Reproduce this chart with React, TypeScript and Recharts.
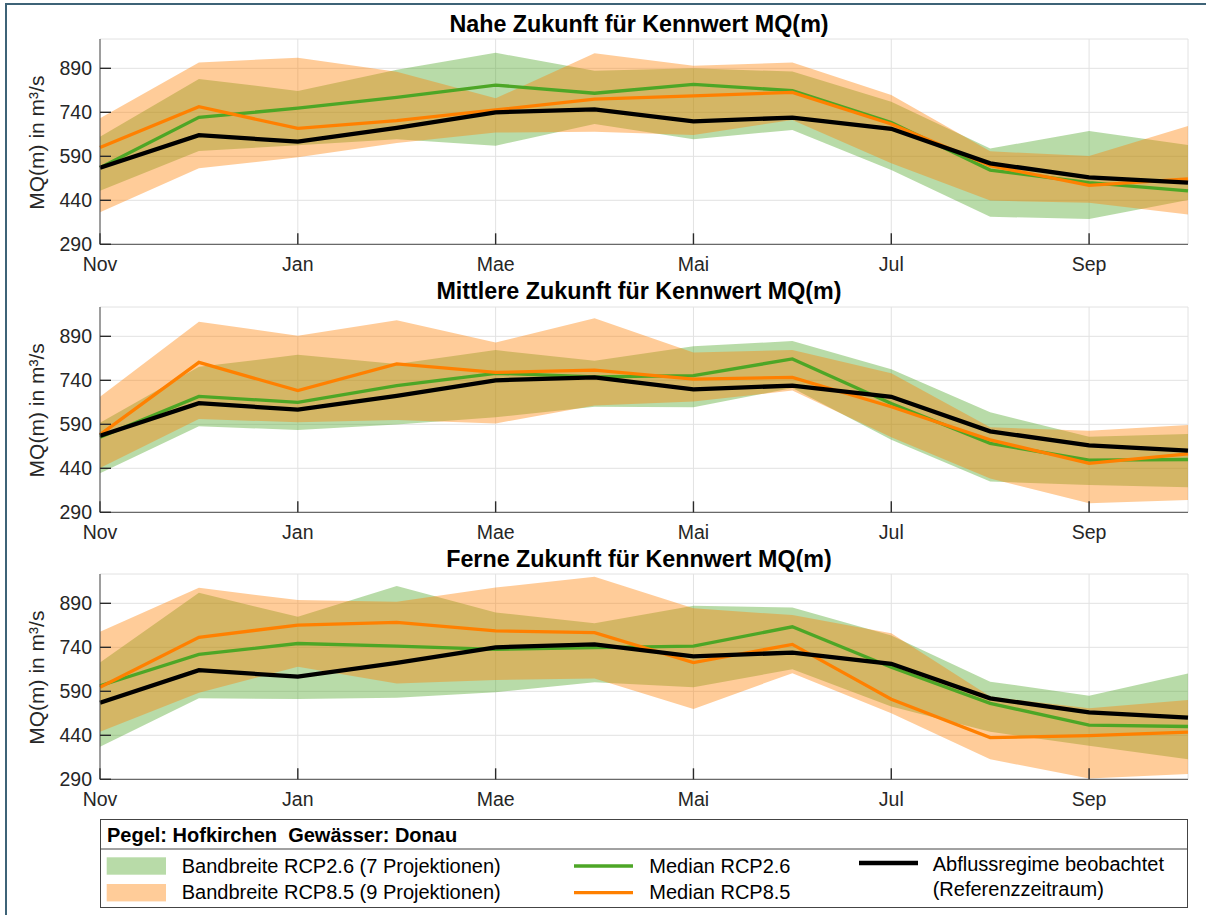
import React from 'react';
import { ComposedChart, Area, Line, XAxis, YAxis, CartesianGrid } from 'recharts';

const months = ['Nov', 'Dez', 'Jan', 'Feb', 'Mae', 'Apr', 'Mai', 'Jun', 'Jul', 'Aug', 'Sep', 'Okt'];
const xTicks = [0, 2, 4, 6, 8, 10];
const yTicks = [290, 440, 590, 740, 890];
const yDomain = [290, 990];

const observed = [551, 662, 640, 687, 740, 750, 709, 722, 684, 566, 518, 500];

// Nahe Zukunft
const nearGreenLow = [473, 608, 628, 648, 626, 700, 648, 680, 543, 384, 376, 441];
const nearGreenHigh = [657, 854, 813, 885, 943, 882, 890, 879, 776, 617, 676, 629];
const nearOrangeLow = [399, 549, 587, 635, 671, 674, 663, 714, 566, 439, 432, 392];
const nearOrangeHigh = [720, 910, 926, 878, 788, 941, 899, 910, 799, 607, 591, 693];
const nearGreenMedian = [551, 723, 754, 791, 833, 805, 835, 814, 705, 543, 500, 472];
const nearOrangeMedian = [620, 759, 685, 712, 748, 785, 796, 808, 700, 558, 491, 513];

// Mittlere Zukunft
const midGreenLow = [423, 583, 571, 589, 614, 650, 648, 714, 537, 395, 383, 375];
const midGreenHigh = [595, 786, 827, 796, 843, 807, 856, 874, 778, 631, 548, 557];
const midOrangeLow = [441, 608, 597, 605, 593, 654, 668, 705, 546, 405, 321, 332];
const midOrangeHigh = [684, 940, 892, 945, 869, 952, 835, 843, 764, 580, 568, 588];
const midGreenMedian = [546, 685, 665, 722, 764, 752, 756, 813, 661, 525, 468, 470];
const midOrangeMedian = [555, 801, 705, 796, 767, 775, 744, 750, 650, 537, 457, 489];

// Ferne Zukunft
const farGreenLow = [401, 566, 564, 568, 587, 621, 604, 665, 538, 452, 404, 358];
const farGreenHigh = [688, 926, 844, 949, 859, 822, 882, 876, 780, 623, 575, 651];
const farOrangeLow = [452, 585, 674, 617, 629, 634, 530, 652, 515, 358, 293, 308];
const farOrangeHigh = [793, 943, 901, 895, 944, 981, 873, 850, 788, 572, 532, 560];
const farGreenMedian = [609, 716, 753, 744, 733, 739, 744, 810, 672, 549, 475, 470];
const farOrangeMedian = [604, 774, 816, 825, 796, 790, 688, 750, 563, 432, 439, 451];

const GREEN = 'rgb(77,166,38)';
const ORANGE = 'rgb(255,128,0)';
const FONT = '"Liberation Sans", Arial, Helvetica, sans-serif';
const AXIS = '#4a4a4a';
const TICK = '#262626';

function build(gl: number[], gh: number[], ol: number[], oh: number[], gm: number[], om: number[]) {
  return months.map((m, i) => ({
    i,
    month: m,
    gBand: [gl[i], gh[i]],
    oBand: [ol[i], oh[i]],
    gMed: gm[i],
    oMed: om[i],
    obs: observed[i],
  }));
}

const panels = [
  {
    title: 'Nahe Zukunft für Kennwert MQ(m)',
    plotTop: 39,
    data: build(nearGreenLow, nearGreenHigh, nearOrangeLow, nearOrangeHigh, nearGreenMedian, nearOrangeMedian),
  },
  {
    title: 'Mittlere Zukunft für Kennwert MQ(m)',
    plotTop: 306.7,
    data: build(midGreenLow, midGreenHigh, midOrangeLow, midOrangeHigh, midGreenMedian, midOrangeMedian),
  },
  {
    title: 'Ferne Zukunft für Kennwert MQ(m)',
    plotTop: 574,
    data: build(farGreenLow, farGreenHigh, farOrangeLow, farOrangeHigh, farGreenMedian, farOrangeMedian),
  },
];

const PLOT_H = 205.3;
const CHART_H = 300;
const MT = 40;

const tickLineStyle = { stroke: '#2a2a2a', strokeWidth: 1.4 };
const axisLineStyle = { stroke: AXIS, strokeWidth: 1 };

function Panel({ data, plotTop }: { data: any[]; plotTop: number }) {
  return (
    <div style={{ position: 'absolute', left: 0, top: plotTop - MT, width: 1206, height: CHART_H }}>
      <ComposedChart
        width={1206}
        height={CHART_H}
        data={data}
        margin={{ top: MT, right: 18, bottom: CHART_H - MT - PLOT_H - 23, left: 0 }}
      >
        <CartesianGrid stroke="#e2e2e2" strokeWidth={1} />
        <Area
          type="linear"
          dataKey="gBand"
          stroke="none"
          fill={GREEN}
          fillOpacity={0.4}
          dot={false}
          activeDot={false}
          isAnimationActive={false}
        />
        <Area
          type="linear"
          dataKey="oBand"
          stroke="none"
          fill={ORANGE}
          fillOpacity={0.4}
          dot={false}
          activeDot={false}
          isAnimationActive={false}
        />
        <Line type="linear" dataKey="gMed" stroke={GREEN} strokeWidth={3.3} dot={false} activeDot={false} isAnimationActive={false} />
        <Line type="linear" dataKey="oMed" stroke={ORANGE} strokeWidth={3.3} dot={false} activeDot={false} isAnimationActive={false} />
        <Line type="linear" dataKey="obs" stroke="#000000" strokeWidth={4.3} dot={false} activeDot={false} isAnimationActive={false} />
        <XAxis
          dataKey="i"
          type="number"
          domain={[0, 11]}
          ticks={xTicks}
          interval={0}
          height={23}
          tickFormatter={(v: number) => months[v]}
          tickSize={-11}
          tickMargin={23.5}
          tick={{ fontSize: 19.5, fill: TICK, fontFamily: FONT }}
          axisLine={axisLineStyle}
          tickLine={tickLineStyle}
        />
        <XAxis
          xAxisId="top"
          orientation="top"
          dataKey="i"
          type="number"
          domain={[0, 11]}
          ticks={xTicks}
          interval={0}
          height={0}
          tickFormatter={() => ''}
          tickSize={-11}
          axisLine={axisLineStyle}
          tickLine={tickLineStyle}
        />
        <YAxis
          domain={yDomain}
          ticks={yTicks}
          interval={0}
          width={100}
          tickSize={-11}
          tickMargin={19}
          tick={{ fontSize: 19.5, fill: TICK, fontFamily: FONT }}
          axisLine={axisLineStyle}
          tickLine={tickLineStyle}
        />
        <YAxis
          yAxisId="r"
          orientation="right"
          domain={yDomain}
          ticks={yTicks}
          interval={0}
          width={0}
          tickFormatter={() => ''}
          tickSize={-11}
          axisLine={axisLineStyle}
          tickLine={tickLineStyle}
        />
      </ComposedChart>
    </div>
  );
}

export default function App() {
  return (
    <div style={{ position: 'absolute', left: 0, top: 0, width: 1206, height: 915, background: '#ffffff', overflow: 'hidden' }}>
      {panels.map((p) => (
        <Panel key={p.title} data={p.data} plotTop={p.plotTop} />
      ))}
      <svg
        width={1206}
        height={915}
        style={{ position: 'absolute', left: 0, top: 0, pointerEvents: 'none' }}
        fontFamily={FONT}
      >
        <rect x={5} y={3} width={1201} height={2} fill="#3e6377" />
        <rect x={5} y={3} width={2} height={912} fill="#3e6377" />
        {panels.map((p) => (
          <g key={p.title}>
            <text x={639} y={p.plotTop - 7.3} textAnchor="middle" fontSize={23.3} fontWeight="bold" fill="#000">
              {p.title}
            </text>
            <text
              x={44}
              y={p.plotTop + PLOT_H / 2 + 1}
              textAnchor="middle"
              fontSize={21}
              fill={TICK}
              transform={`rotate(-90, 44, ${p.plotTop + PLOT_H / 2 + 1})`}
            >
              MQ(m) in m³/s
            </text>
          </g>
        ))}
        <rect x={100.5} y={819.5} width={1087} height={88} fill="#ffffff" stroke="#444" strokeWidth={1} />
        <line x1={100.5} y1={849} x2={1187.5} y2={849} stroke="#444" strokeWidth={1} />
        <text x={107} y={841.7} fontSize={20} fontWeight="bold" fill="#000" style={{ whiteSpace: 'pre' }}>
          {'Pegel: Hofkirchen  Gewässer: Donau'}
        </text>
        <rect x={106.7} y={857.3} width={59.3} height={17.4} fill={GREEN} fillOpacity={0.4} />
        <rect x={106.7} y={884} width={59.3} height={17.4} fill={ORANGE} fillOpacity={0.4} />
        <text x={181.7} y={873} fontSize={20} fill="#000">Bandbreite RCP2.6 (7 Projektionen)</text>
        <text x={181.7} y={899.3} fontSize={20} fill="#000">Bandbreite RCP8.5 (9 Projektionen)</text>
        <line x1={574} y1={866} x2={633} y2={866} stroke={GREEN} strokeWidth={3.3} />
        <line x1={574} y1={892.7} x2={633} y2={892.7} stroke={ORANGE} strokeWidth={3.3} />
        <text x={649.3} y={873} fontSize={20} fill="#000">Median RCP2.6</text>
        <text x={649.3} y={899.3} fontSize={20} fill="#000">Median RCP8.5</text>
        <line x1={859} y1={863} x2={918} y2={863} stroke="#000" strokeWidth={4.3} />
        <text x={932.7} y={870.7} fontSize={20} fill="#000">Abflussregime beobachtet</text>
        <text x={932.7} y={896} fontSize={20} fill="#000">(Referenzzeitraum)</text>
      </svg>
    </div>
  );
}
